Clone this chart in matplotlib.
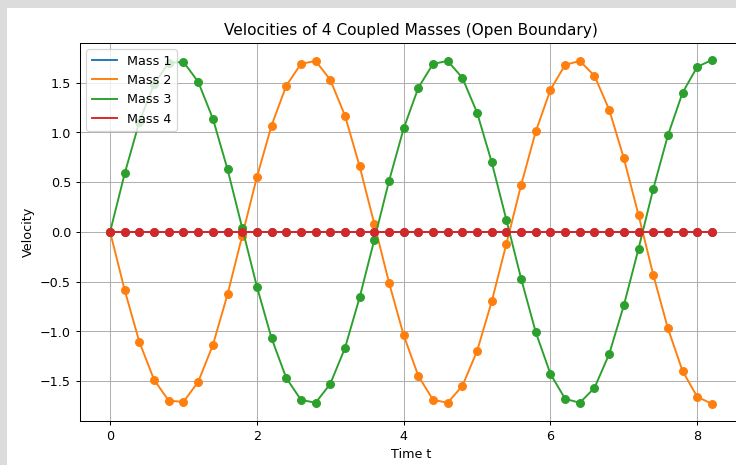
import numpy as np
import matplotlib
matplotlib.use("Agg")
import matplotlib.pyplot as plt
from matplotlib.patches import Rectangle

# sample times and velocities of the four masses
t = [0.0, 0.2, 0.4, 0.6, 0.8, 1.0, 1.2, 1.4, 1.6, 1.8,
     2.0, 2.2, 2.4, 2.6, 2.8, 3.0, 3.2, 3.4, 3.6, 3.8,
     4.0, 4.2, 4.4, 4.6, 4.8, 5.0, 5.2, 5.4, 5.6, 5.8,
     6.0, 6.2, 6.4, 6.6, 6.8, 7.0, 7.2, 7.4, 7.6, 7.8,
     8.0, 8.2]

v_mass3 = [0.00, 0.59, 1.11, 1.49, 1.70, 1.71, 1.51, 1.14, 0.63, 0.04,
           -0.55, -1.07, -1.47, -1.69, -1.72, -1.53, -1.17, -0.66, -0.08, 0.51,
           1.04, 1.45, 1.69, 1.72, 1.55, 1.20, 0.70, 0.12, -0.47, -1.01,
           -1.43, -1.68, -1.72, -1.57, -1.23, -0.74, -0.17, 0.43, 0.97, 1.40,
           1.66, 1.73]

v_mass2 = [0.00, -0.59, -1.11, -1.49, -1.70, -1.71, -1.51, -1.14, -0.63, -0.04,
           0.55, 1.07, 1.47, 1.69, 1.72, 1.53, 1.17, 0.66, 0.08, -0.51,
           -1.04, -1.45, -1.69, -1.72, -1.55, -1.20, -0.70, -0.12, 0.47, 1.01,
           1.43, 1.68, 1.72, 1.57, 1.23, 0.74, 0.17, -0.43, -0.97, -1.40,
           -1.66, -1.73]

v_mass1 = [0.0] * len(t)
v_mass4 = [0.0] * len(t)

labels = ["Mass 1", "Mass 2", "Mass 3", "Mass 4"]
series = [v_mass1, v_mass2, v_mass3, v_mass4]
colors = ["tab:blue", "tab:orange", "tab:green", "tab:red"]

W, H = 736, 465
fig = plt.figure(figsize=(W / 92, (H + 0.3) / 92), dpi=92, facecolor="#dcdcdc")
# white canvas inset from the grey border on the top and left
fig.add_artist(Rectangle((7 / W, 0), 1, (H - 8) / H,
                         transform=fig.transFigure, facecolor="white",
                         edgecolor="none", zorder=-5))

ax = fig.add_axes([80 / W, 44 / H, 662 / W, 378 / H])
ax.set_zorder(1)

for lab, v, c in zip(labels, series, colors):
    ax.plot(t, v, color=c, label=lab)
    ax.plot(t, v, "o", color=c, markersize=6)

ax.set_title("Velocities of 4 Coupled Masses (Open Boundary)")
ax.set_xlabel("Time t")
ax.set_ylabel("Velocity")
ax.grid(True)
ax.legend(loc="upper left")

fig.savefig("out.png", dpi=92, facecolor=fig.get_facecolor())
